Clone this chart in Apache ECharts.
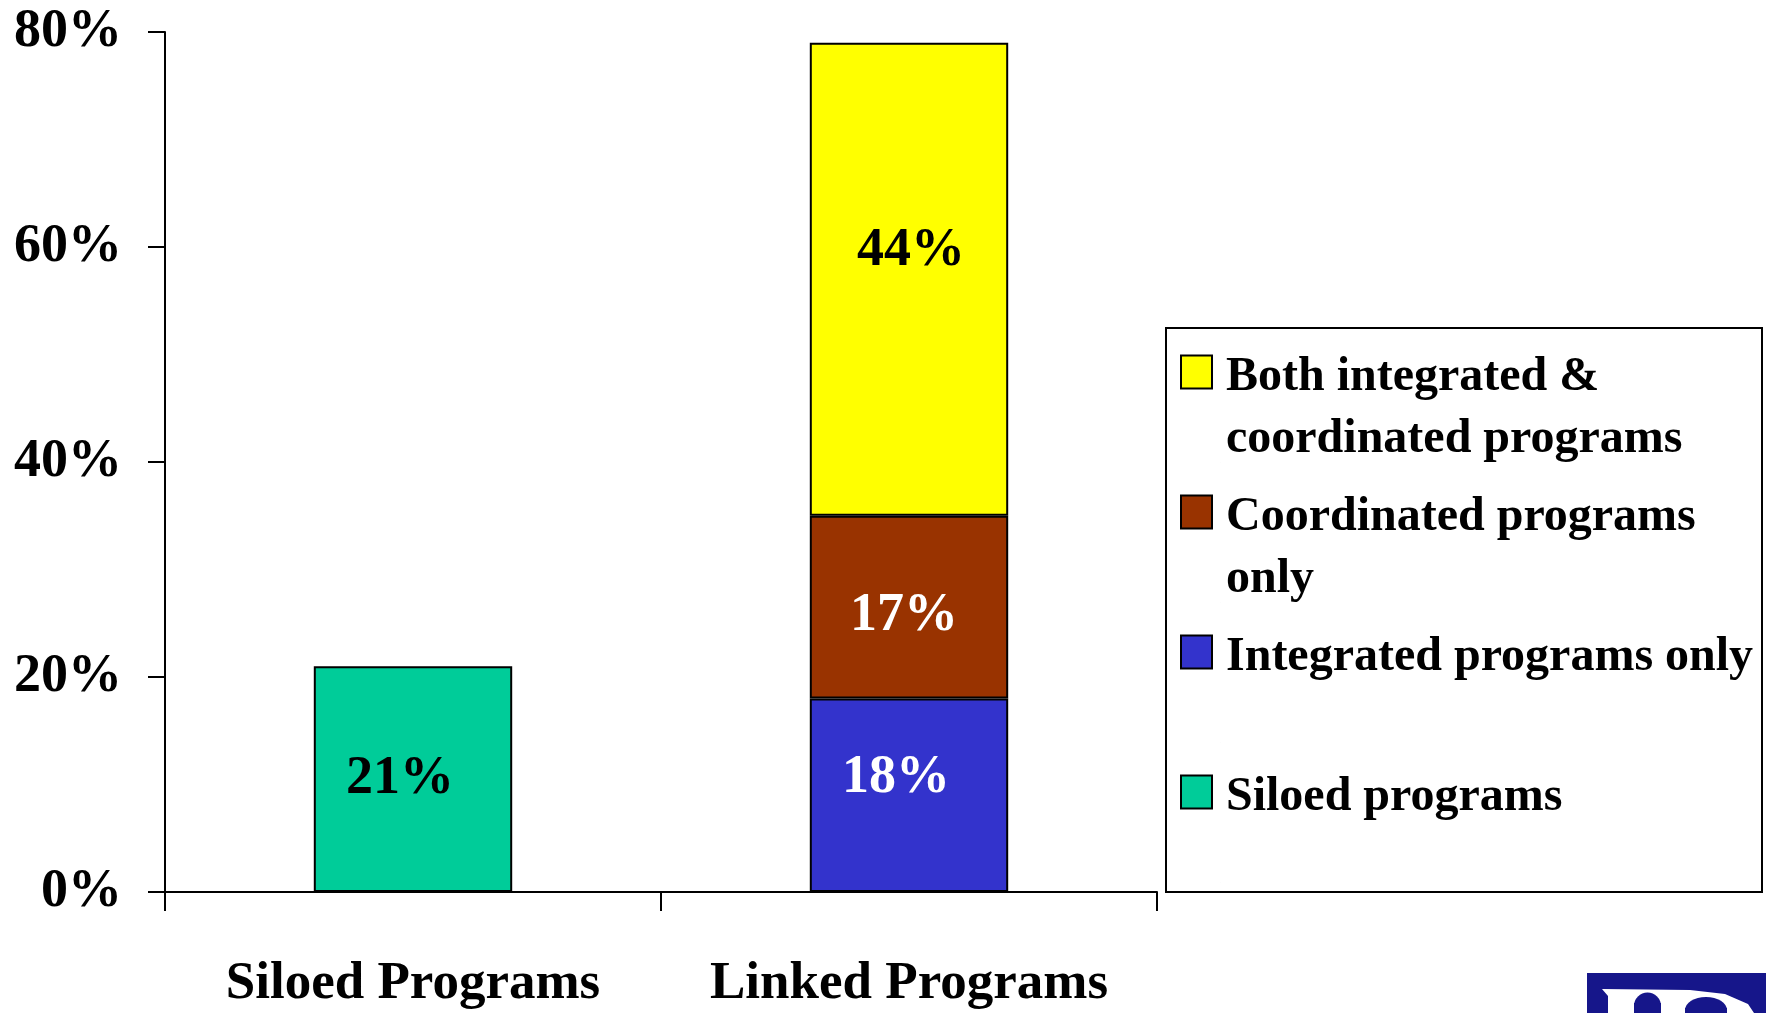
<!DOCTYPE html>
<html>
<head>
<meta charset="utf-8">
<title>Siloed vs Linked Programs</title>
<script src="https://cdn.jsdelivr.net/npm/echarts@6/dist/echarts.min.js"></script>
<style>
  html, body { margin: 0; padding: 0; background: #fff; }
  #chart { width: 1766px; height: 1013px; }
</style>
</head>
<body>
<div id="chart"></div>
<script>
// Categories along the x axis
const categories = ['Siloed Programs', 'Linked Programs'];

// Stacked shares (percent) per category
const siloed      = [21, '-'];
const integrated  = ['-', 18];
const coordinated = ['-', 17];
const both        = ['-', 44];

// Legend entries, top to bottom
const legendNames = [
  'Both integrated & coordinated programs',
  'Coordinated programs only',
  'Integrated programs only',
  'Siloed programs'
];

// How each legend entry is broken over two lines
const legendText = {
  'Both integrated & coordinated programs': 'Both integrated &\ncoordinated programs',
  'Coordinated programs only': 'Coordinated programs\nonly',
  'Integrated programs only': 'Integrated programs only\n\u00a0',
  'Siloed programs': 'Siloed programs\n\u00a0'
};

// Value axis ticks
const yMin = 0, yMax = 80, yStep = 20;

const FONT = '"Liberation Serif", "Times New Roman", serif';

// Legend swatch: a square at the top of a taller, mostly empty box so the
// swatch sits beside the first line of a two-line entry.
const SWATCH = 'path://M0,0H31V33H0Z M39.99,107L40,107';

const chart = echarts.init(document.getElementById('chart'), null, { renderer: 'canvas' });

function barSeries(name, data, color, labelColor, offset) {
  return {
    name: name,
    type: 'bar',
    stack: 'share',
    barWidth: '40%',
    data: data,
    itemStyle: { color: color, borderColor: '#000', borderWidth: 2 },
    label: {
      show: true,
      position: 'inside',
      offset: offset,
      formatter: '{c}%',
      fontFamily: FONT,
      fontWeight: 'bold',
      fontSize: 54,
      color: labelColor
    },
    emphasis: { disabled: true }
  };
}

chart.setOption({
  backgroundColor: '#fff',
  animation: false,
  grid: { left: 165, top: 32, width: 992, height: 860 },
  xAxis: {
    type: 'category',
    data: categories,
    axisLine: { lineStyle: { color: '#000', width: 2 } },
    axisTick: { show: true, length: 19, lineStyle: { color: '#000', width: 2 } },
    axisLabel: {
      interval: 0,
      hideOverlap: false,
      margin: 66,
      fontFamily: FONT,
      fontWeight: 'bold',
      fontSize: 53,
      color: '#000'
    }
  },
  yAxis: {
    type: 'value',
    min: yMin,
    max: yMax,
    interval: yStep,
    axisLine: { show: true, lineStyle: { color: '#000', width: 2 } },
    axisTick: { show: true, length: 17, lineStyle: { color: '#000', width: 2 } },
    splitLine: { show: false },
    axisLabel: {
      margin: 43,
      formatter: '{value}%',
      fontFamily: FONT,
      fontWeight: 'bold',
      fontSize: 54,
      color: '#000'
    }
  },
  legend: {
    orient: 'vertical',
    left: 1180,
    top: 347,
    padding: 0,
    itemGap: 16,
    itemWidth: 40,
    itemHeight: 107,
    selectedMode: false,
    icon: SWATCH,
    data: legendNames,
    formatter: function (name) { return legendText[name]; },
    textStyle: {
      fontFamily: FONT,
      fontWeight: 'bold',
      fontSize: 48,
      lineHeight: 62,
      color: '#000'
    }
  },
  graphic: [
    // legend frame
    {
      type: 'rect',
      z: 0,
      shape: { x: 1166, y: 328, width: 596, height: 564 },
      style: { fill: 'transparent', stroke: '#000', lineWidth: 2 }
    },
    // corner logo
    {
      type: 'group',
      children: [
        { type: 'rect', shape: { x: 1587, y: 973, width: 179, height: 40 }, style: { fill: '#16168a' } },
        { type: 'polygon', shape: { points: [[1602, 989], [1690, 990], [1725, 994], [1748, 1004], [1754, 1013], [1608, 1013], [1608, 996]] }, style: { fill: '#fff' } },
        { type: 'rect', shape: { x: 1634, y: 1003, width: 27, height: 10 }, style: { fill: '#16168a' } },
        { type: 'circle', shape: { cx: 1647.5, cy: 1006, r: 13.5 }, style: { fill: '#16168a' } },
        { type: 'rect', shape: { x: 1685, y: 1008, width: 42, height: 5 }, style: { fill: '#16168a' } },
        { type: 'ellipse', shape: { cx: 1706, cy: 1010, rx: 21, ry: 13 }, style: { fill: '#16168a' } }
      ]
    }
  ],
  series: [
    barSeries('Siloed programs', siloed, '#00CC99', '#000', [-13, 0]),
    barSeries('Integrated programs only', integrated, '#3333CC', '#fff', [-13, -17]),
    barSeries('Coordinated programs only', coordinated, '#993300', '#fff', [-5, 9]),
    barSeries('Both integrated & coordinated programs', both, '#FFFF00', '#000', [2, -28])
  ]
});
</script>
</body>
</html>
